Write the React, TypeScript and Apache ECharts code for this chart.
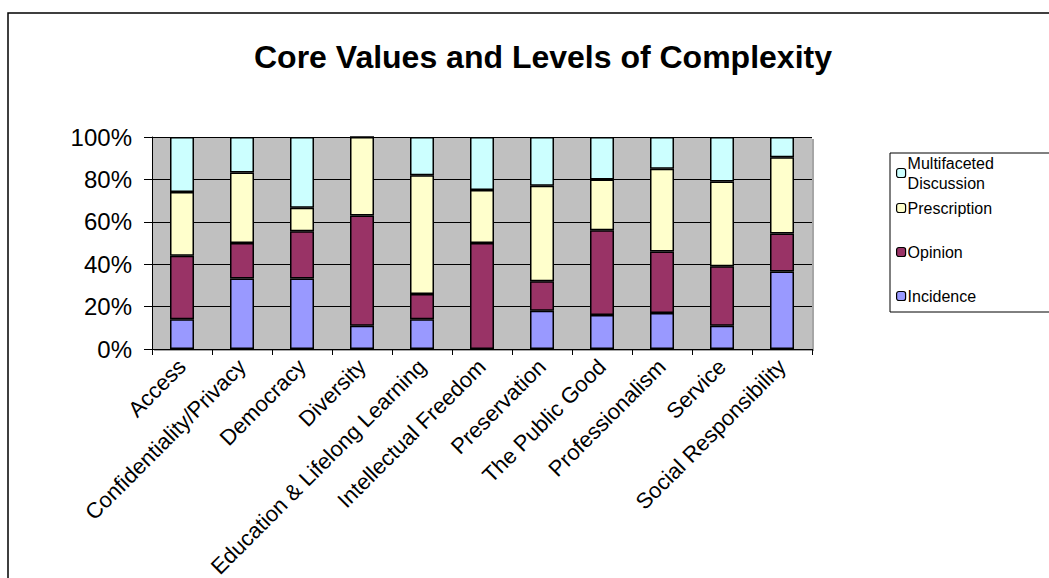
import React, { useEffect, useRef } from "react";
import * as echarts from "echarts";

const categories = [
  "Access",
  "Confidentiality/Privacy",
  "Democracy",
  "Diversity",
  "Education & Lifelong Learning",
  "Intellectual Freedom",
  "Preservation",
  "The Public Good",
  "Professionalism",
  "Service",
  "Social Responsibility",
];

const incidence = [14, 33.3, 33.3, 11, 14, 0, 18, 16, 17, 11, 36.5];
const opinion = [30, 16.7, 22.2, 52, 12, 50, 14, 40, 29, 28, 18];
const prescription = [30, 33.3, 11.1, 37, 56, 25, 45, 24, 39, 40, 36];
const multifaceted = [26, 16.7, 33.4, 0, 18, 25, 23, 20, 15, 21, 9.5];

const seriesNames = ["Incidence", "Opinion", "Prescription", "Multifaceted Discussion"];
const seriesColors = ["#9999FF", "#993366", "#FFFFCC", "#CCFFFF"];
const seriesData = [incidence, opinion, prescription, multifaceted];

const legendOrder = ["Multifaceted Discussion", "Prescription", "Opinion", "Incidence"];
const legendTops = [153, 198, 242, 286];

const FONT = "'Liberation Sans', Arial, sans-serif";

export default function App() {
  const ref = useRef<HTMLDivElement>(null);
  useEffect(() => {
    if (!ref.current) return;
    const chart = echarts.init(ref.current, null, { renderer: "svg" });
    const option: any = {
      animation: false,
      backgroundColor: "#ffffff",
      title: {
        text: "Core Values and Levels of Complexity",
        left: 249,
        top: 36,
        textStyle: { fontFamily: FONT, fontSize: 32, fontWeight: "bold", color: "#000" },
      },
      graphic: [
        {
          type: "rect",
          z: 0,
          shape: { x: 8, y: 13, width: 1100, height: 700 },
          style: { fill: "none", stroke: "#000", lineWidth: 1.5 },
          silent: true,
        },
        {
          type: "rect",
          z: 1,
          shape: { x: 890, y: 153, width: 200, height: 159 },
          style: { fill: "#fff", stroke: "#000", lineWidth: 1 },
          silent: true,
        },
      ],
      legend: legendOrder.map((name, i) => ({
        data: [name],
        left: 896,
        top: legendTops[i],
        z: 10,
        orient: "vertical",
        itemWidth: 9,
        itemHeight: 9,
        itemGap: 0,
        padding: 0,
        selectedMode: false,
        formatter: (n: string) => (n === "Multifaceted Discussion" ? "Multifaceted\nDiscussion" : n),
        textStyle: { fontFamily: FONT, fontSize: 16, color: "#000", lineHeight: 20, padding: [0, 0, 0, -3] },
        itemStyle: { borderColor: "#000", borderWidth: 1.2 },
      })),
      grid: {
        left: 152,
        right: 237,
        top: 137,
        bottom: 229,
        containLabel: false,
        outerBoundsMode: "none",
        show: true,
        backgroundColor: "#C0C0C0",
        borderWidth: 0,
        shadowColor: "rgba(0,0,0,0.35)",
        shadowOffsetX: 2,
        shadowOffsetY: 2,
        shadowBlur: 0,
      },
      xAxis: {
        type: "category",
        data: categories,
        axisLine: { show: true, lineStyle: { color: "#000", width: 1 } },
        axisTick: { show: true, alignWithLabel: false, length: 6, lineStyle: { color: "#000" } },
        axisLabel: {
          interval: 0,
          rotate: 45,
          margin: 14,
          fontFamily: FONT,
          fontSize: 22,
          color: "#000",
        },
      },
      yAxis: {
        type: "value",
        min: 0,
        max: 100,
        interval: 20,
        axisLine: { show: true, lineStyle: { color: "#000", width: 1 } },
        axisTick: { show: true, length: 8, lineStyle: { color: "#000" } },
        splitLine: { show: true, lineStyle: { color: "#000", width: 1 } },
        axisLabel: {
          formatter: "{value}%",
          margin: 20,
          fontFamily: FONT,
          fontSize: 24,
          color: "#000",
        },
      },
      series: seriesNames.map((name, i) => ({
        name,
        type: "bar",
        stack: "total",
        barWidth: 24,
        data: seriesData[i],
        itemStyle: { color: seriesColors[i], borderColor: "#000", borderWidth: 1.5 },
      })),
    };
    chart.setOption(option);
    return () => chart.dispose();
  }, []);
  return (
    <div
      ref={ref}
      style={{ position: "fixed", left: 0, top: 0, width: 1049, height: 578, background: "#fff" }}
    />
  );
}
